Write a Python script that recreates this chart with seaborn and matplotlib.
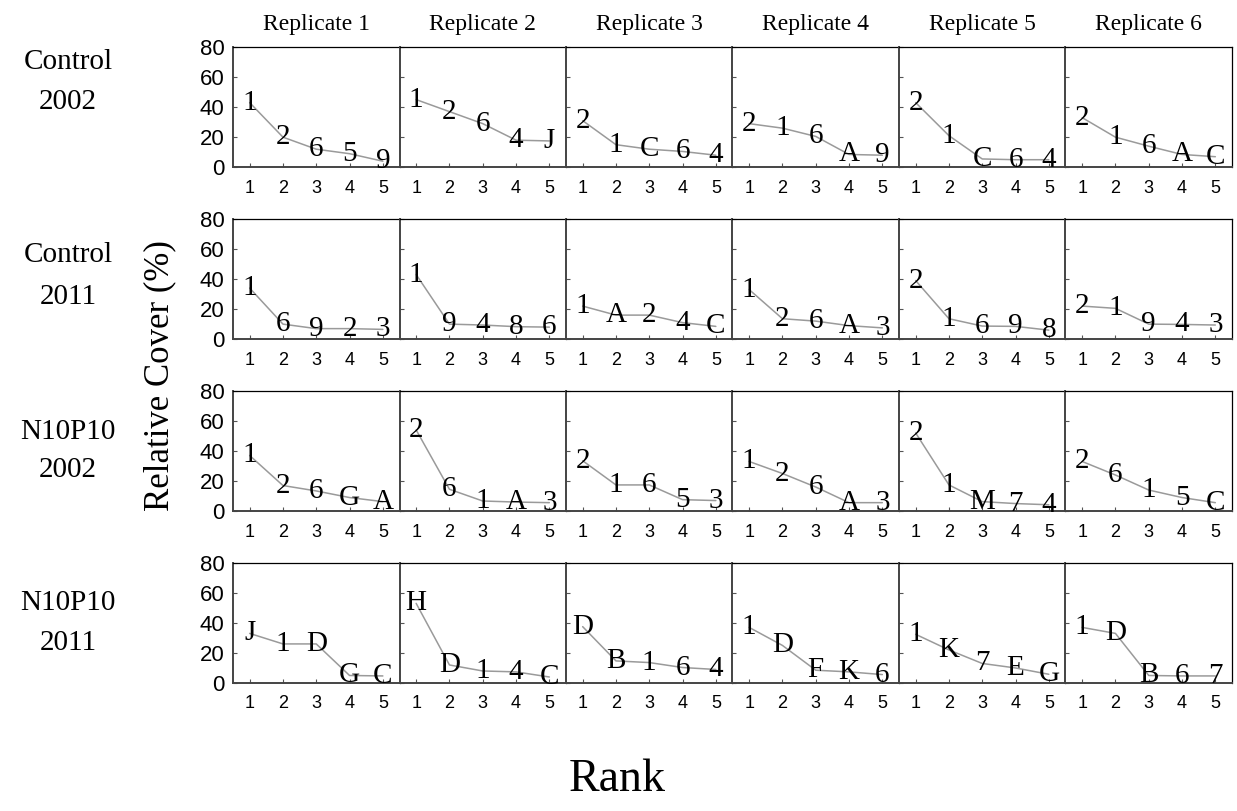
import numpy as np
import pandas as pd
import matplotlib
matplotlib.use("Agg")
import matplotlib.pyplot as plt
import seaborn as sns

# ---------------- data ----------------
rows = ["Control\n2002", "Control\n2011", "N10P10\n2002", "N10P10\n2011"]
replicates = ["Replicate 1", "Replicate 2", "Replicate 3",
              "Replicate 4", "Replicate 5", "Replicate 6"]
ranks = [1, 2, 3, 4, 5]

cover_control_2002 = [
    [43, 20, 12, 9, 4],
    [45, 37, 29, 18, 17.5],
    [31, 15, 12, 10.5, 8],
    [29, 26, 20.5, 8.5, 8],
    [43, 21, 5.5, 5, 5],
    [33, 20, 14, 8.5, 7],
]
species_control_2002 = [
    ["1", "2", "6", "5", "9"],
    ["1", "2", "6", "4", "J"],
    ["2", "1", "C", "6", "4"],
    ["2", "1", "6", "A", "9"],
    ["2", "1", "C", "6", "4"],
    ["2", "1", "6", "A", "C"],
]
cover_control_2011 = [
    [34, 10, 7, 7, 6.5],
    [43, 10, 9.4, 8.3, 8],
    [22, 16, 16, 11, 8.5],
    [33, 13.6, 12, 9, 7.5],
    [39, 13.6, 8.7, 8.5, 6],
    [22, 20.5, 10, 9.8, 9.4],
]
species_control_2011 = [
    ["1", "6", "9", "2", "3"],
    ["1", "9", "4", "8", "6"],
    ["1", "A", "2", "4", "C"],
    ["1", "2", "6", "A", "3"],
    ["2", "1", "6", "9", "8"],
    ["2", "1", "9", "4", "3"],
]
cover_n10p10_2002 = [
    [37, 17, 13.4, 9, 6.3],
    [54, 14.5, 6.7, 6, 5.6],
    [33.5, 17.4, 17.4, 7.6, 7],
    [33, 25, 16, 5.6, 5.6],
    [52, 17.4, 6.3, 5, 4.2],
    [33, 24, 14, 9, 5.6],
]
species_n10p10_2002 = [
    ["1", "2", "6", "G", "A"],
    ["2", "6", "1", "A", "3"],
    ["2", "1", "6", "5", "3"],
    ["1", "2", "6", "A", "3"],
    ["2", "1", "M", "7", "4"],
    ["2", "6", "1", "5", "C"],
]
cover_n10p10_2011 = [
    [33, 26, 26, 5, 4.7],
    [53, 12, 8, 7.4, 4],
    [37.5, 14.7, 13.6, 10.3, 9],
    [37, 25, 8.5, 7.4, 5.6],
    [32.4, 22, 13, 10, 5.8],
    [37, 33, 5, 4.7, 4.7],
]
species_n10p10_2011 = [
    ["J", "1", "D", "G", "C"],
    ["H", "D", "1", "4", "C"],
    ["D", "B", "1", "6", "4"],
    ["1", "D", "F", "K", "6"],
    ["1", "K", "7", "E", "G"],
    ["1", "D", "B", "6", "7"],
]
y_ticks = [0, 20, 40, 60, 80]

covers = [cover_control_2002, cover_control_2011, cover_n10p10_2002, cover_n10p10_2011]
species = [species_control_2002, species_control_2011, species_n10p10_2002, species_n10p10_2011]

records = []
for r, row in enumerate(rows):
    for c, rep in enumerate(replicates):
        for k, rk in enumerate(ranks):
            records.append(dict(row=row, rep=rep, rank=rk,
                                cover=covers[r][c][k], sp=species[r][c][k]))
df = pd.DataFrame(records)

# ---------------- plotting ----------------
sns.set_style("white")
plt.rcParams.update({"text.color": "black", "axes.labelcolor": "black",
                     "xtick.color": "black", "ytick.color": "black"})
serif = ["Liberation Serif", "DejaVu Serif"]
sans = ["Liberation Sans", "DejaVu Sans"]

W, H = 1237, 811
fig, axes = plt.subplots(4, 6, figsize=(W / 100, H / 100), dpi=100,
                         sharex=True, sharey=True)
fig.subplots_adjust(left=233 / W, right=1232 / W, top=1 - 47 / H,
                    bottom=1 - 683 / H, wspace=0, hspace=0.43)

for r, row in enumerate(rows):
    for c, rep in enumerate(replicates):
        ax = axes[r, c]
        sub = df[(df["row"] == row) & (df["rep"] == rep)]
        sns.lineplot(data=sub, x="rank", y="cover", ax=ax, color="#9a9a9a",
                     linewidth=1.1, legend=False)
        for _, p in sub.iterrows():
            ax.text(p["rank"], p["cover"], p["sp"], ha="center", va="center",
                    fontsize=21, family=serif, color="black")
        ax.set_xlim(0.5, 5.5)
        ax.set_ylim(0, 80)
        ax.set_xticks(ranks)
        ax.set_yticks(y_ticks)
        ax.set_xlabel("")
        ax.set_ylabel("")
        ax.tick_params(axis="both", direction="in", length=3, width=0.8,
                       color="#555555", labelcolor="black", bottom=True, left=True)
        ax.tick_params(axis="x", labelbottom=True, pad=9, labelsize=13)
        ax.tick_params(axis="y", labelleft=(c == 0), pad=6, labelsize=16)
        for lab in ax.get_xticklabels() + ax.get_yticklabels():
            lab.set_family(sans)
        for side in ["top", "right"]:
            ax.spines[side].set_color("black")
            ax.spines[side].set_linewidth(0.9)
        for side in ["left", "bottom"]:
            ax.spines[side].set_color("#444444")
            ax.spines[side].set_linewidth(1.4)
        if r == 0:
            ax.set_title(rep, fontsize=17, family=serif, pad=12, color="black")

# row labels
row_y = [(62, 102), (255, 297), (432, 470), (603, 643)]
for (l1, l2), txt in zip(row_y, rows):
    a, b = txt.split("\n")
    fig.text(68 / W, 1 - l1 / H, a, ha="center", va="center",
             fontsize=21, family=serif)
    fig.text(68 / W, 1 - l2 / H, b, ha="center", va="center",
             fontsize=21, family=serif)

fig.text(160 / W, 1 - 376 / H, "Relative Cover (%)", rotation=90,
         ha="center", va="center", fontsize=25, family=serif)
fig.text(617 / W, 1 - 780 / H, "Rank", ha="center", va="center",
         fontsize=33, family=serif)

fig.savefig("out.png", dpi=100, facecolor="white")
